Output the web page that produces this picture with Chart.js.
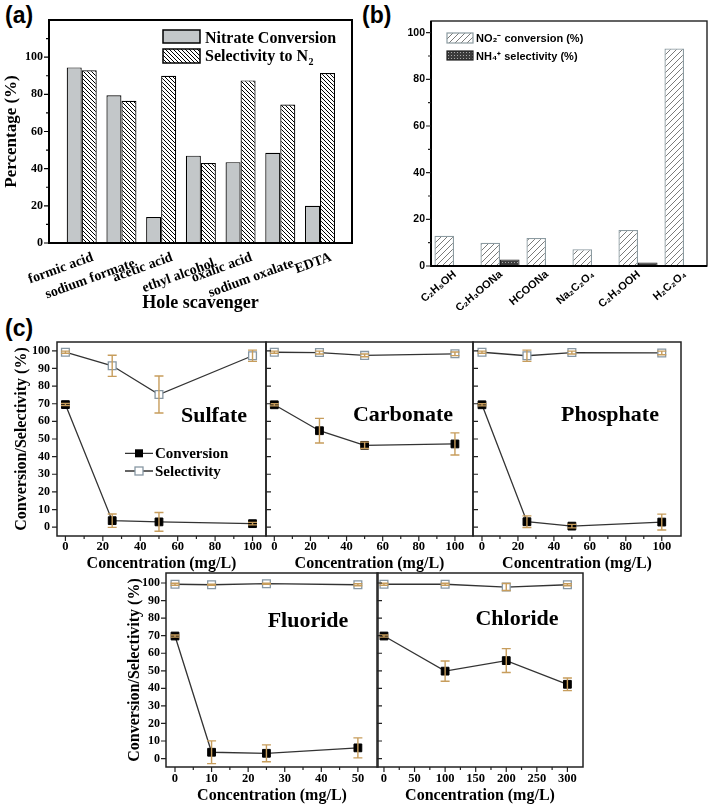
<!DOCTYPE html>
<html>
<head>
<meta charset="utf-8">
<script src="https://cdn.jsdelivr.net/npm/chart.js@4.4.0/dist/chart.umd.min.js"></script>
<style>
  body { margin: 0; background: #fff; width: 709px; height: 806px; position: relative; overflow: hidden; }
  canvas { position: absolute; }
  .tag { position: absolute; font: bold 23px 'Liberation Sans', Arial, sans-serif; color: #000; }
</style>
</head>
<body>
<div class="tag" style="left:5px;top:2px">(a)</div>
<div class="tag" style="left:362px;top:2px">(b)</div>
<div class="tag" style="left:5px;top:315px">(c)</div>

<canvas id="pa" width="360" height="318" style="left:0;top:0"></canvas>
<canvas id="pb" width="349" height="310" style="left:360px;top:0"></canvas>
<canvas id="sulfate" width="268" height="245" style="left:0;top:330px"></canvas>
<canvas id="carbonate" width="214" height="245" style="left:262px;top:330px"></canvas>
<canvas id="phosphate" width="239" height="245" style="left:470px;top:330px"></canvas>
<canvas id="fluoride" width="267" height="244" style="left:113px;top:562px"></canvas>
<canvas id="chloride" width="216" height="244" style="left:374px;top:562px"></canvas>

<script>
// --- panel (a) ---
const aCategories = ['formic acid', 'sodium formate', 'acetic acid', 'ethyl alcohol', 'oxalic acid', 'sodium oxalate', 'EDTA'];
const aConversion = [94.5, 79.5, 14, 47, 43.5, 48.5, 20];
const aSelectivity = [93, 76.5, 90, 43, 87.5, 74.5, 91.5];
const aYTicks = [0, 20, 40, 60, 80, 100];
const aYMinor = [10, 30, 50, 70, 90, 110];

// --- panel (b) ---
const bCategories = ['C₂H₅OH', 'C₂H₃OONa', 'HCOONa', 'Na₂C₂O₄', 'C₂H₃OOH', 'H₂C₂O₄'];
const bConversion = [13, 10, 12, 7.2, 15.4, 93.2];
const bAmmonium = [null, 2.8, null, null, 1.5, null];
const bYTicks = [0, 20, 40, 60, 80, 100];
const bYMinor = [10, 30, 50, 70, 90];

// --- panel (c) ---
const cYTicks = [0, 10, 20, 30, 40, 50, 60, 70, 80, 90, 100];
const c100Ticks = [0, 20, 40, 60, 80, 100];
const c100Minor = [10, 30, 50, 70, 90];
const fluorideTicks = [0, 10, 20, 30, 40, 50];
const fluorideMinor = [5, 15, 25, 35, 45];
const chlorideTicks = [0, 50, 100, 150, 200, 250, 300];
const chlorideMinor = [25, 75, 125, 175, 225, 275];

const sulfateX = [0, 25, 50, 100];
const sulfateConv = [69.5, 3.7, 3, 2];
const sulfateConvErr = [0.6, 3.8, 5.3, 0.7];
const sulfateSel = [99.2, 91.5, 75.2, 97.2];
const sulfateSelErr = [0.6, 6, 10.5, 3.2];

const carbonateX = [0, 25, 50, 100];
const carbonateConv = [69.4, 54.7, 46.4, 47.2];
const carbonateConvErr = [0.6, 7, 1.8, 6.3];
const carbonateSel = [99.2, 99, 97.4, 98.3];
const carbonateSelErr = [0.6, 0.8, 0.8, 1];

const phosphateX = [0, 25, 50, 100];
const phosphateConv = [69.4, 3.1, 0.6, 2.9];
const phosphateConvErr = [0.6, 3.3, 1, 4.5];
const phosphateSel = [99.2, 97.2, 99, 98.8];
const phosphateSelErr = [0.6, 3.2, 0.8, 1];

const fluorideX = [0, 10, 25, 50];
const fluorideConv = [69.8, 3.6, 3, 6.1];
const fluorideConvErr = [0.6, 6.5, 4.8, 5.7];
const fluorideSel = [99.3, 99, 99.6, 99];
const fluorideSelErr = [0.6, 0.3, 0.3, 0.6];

const chlorideX = [0, 100, 200, 300];
const chlorideConv = [69.8, 49.8, 55.8, 42.3];
const chlorideConvErr = [0.6, 5.8, 6.8, 3.6];
const chlorideSel = [99.3, 99.3, 97.7, 99];
const chlorideSelErr = [0.6, 0.6, 2, 0.6];

const SERIF = "'Liberation Serif', 'Times New Roman', serif";
const SANS = "'Liberation Sans', Arial, sans-serif";
const ERR_COLOR = '#c79d5c';
const SEL_EDGE = '#8797a3';

// hatch patterns
function hatch(bg, fg, size, dir, lw) {
    const c = document.createElement('canvas');
    c.width = c.height = size;
    const g = c.getContext('2d');
    g.fillStyle = bg;
    g.fillRect(0, 0, size, size);
    g.strokeStyle = fg;
    g.lineWidth = lw;
    g.beginPath();
    if (dir === '\\') {
        g.moveTo(0, 0); g.lineTo(size, size);
        g.moveTo(-1, size - 1); g.lineTo(1, size + 1);
        g.moveTo(size - 1, -1); g.lineTo(size + 1, 1);
    } else {
        g.moveTo(0, size); g.lineTo(size, 0);
        g.moveTo(-1, 1); g.lineTo(1, -1);
        g.moveTo(size - 1, size + 1); g.lineTo(size + 1, size - 1);
    }
    g.stroke();
    return g.createPattern(c, 'repeat');
}
function dots() {
    const c = document.createElement('canvas');
    c.width = c.height = 3;
    const g = c.getContext('2d');
    g.fillStyle = '#3c3c3c';
    g.fillRect(0, 0, 3, 3);
    g.fillStyle = '#a8a8a8';
    g.fillRect(1, 1, 1, 1);
    return g.createPattern(c, 'repeat');
}
const hatchA = hatch('#fff', '#000', 4, '\\', 1);
const hatchB = hatch('#fff', '#7a7a7a', 6, '/', 1);
const dotsB = dots();

// frame + tick marks drawn on the library's scales
function frame(o) {
    return {
        id: 'frame',
        afterDraw(chart) {
            const { ctx, chartArea: a, scales: { x, y } } = chart;
            ctx.save();
            ctx.strokeStyle = o.color || '#000';
            ctx.lineWidth = o.width || 1.5;
            ctx.strokeRect(a.left, a.top, a.right - a.left, a.bottom - a.top);
            if (o.thickLB) {
                ctx.lineWidth = o.thickLB;
                ctx.strokeStyle = '#000';
                ctx.beginPath();
                ctx.moveTo(a.left, a.top); ctx.lineTo(a.left, a.bottom); ctx.lineTo(a.right, a.bottom);
                ctx.stroke();
            }
            ctx.lineWidth = 1.2;
            ctx.strokeStyle = o.color || '#000';
            ctx.beginPath();
            const s = o.yIn ? 1 : -1;
            const yTick = (v, len) => { const p = y.getPixelForValue(v); ctx.moveTo(a.left, p); ctx.lineTo(a.left + s * len, p); };
            const xTick = (v, len) => { const p = x.getPixelForValue(v); ctx.moveTo(p, a.bottom); ctx.lineTo(p, a.bottom + len); };
            (o.yMajor || []).forEach(v => yTick(v, 5));
            (o.yMinor || []).forEach(v => yTick(v, 3));
            (o.xMajor || []).forEach(v => xTick(v, 5));
            (o.xMinor || []).forEach(v => xTick(v, 3));
            ctx.stroke();
            ctx.restore();
        }
    };
}

const errorBars = {
    id: 'errorBars',
    afterDatasetsDraw(chart) {
        const { ctx } = chart;
        const y = chart.scales.y;
        ctx.save();
        ctx.strokeStyle = ERR_COLOR;
        ctx.lineWidth = 1.4;
        chart.data.datasets.forEach((ds, i) => {
            if (!ds.errors) return;
            chart.getDatasetMeta(i).data.forEach((pt, j) => {
                const v = ds.data[j].y, e = ds.errors[j];
                const t = y.getPixelForValue(v + e), b = y.getPixelForValue(v - e);
                ctx.beginPath();
                ctx.moveTo(pt.x, t); ctx.lineTo(pt.x, b);
                ctx.moveTo(pt.x - 4.5, t); ctx.lineTo(pt.x + 4.5, t);
                ctx.moveTo(pt.x - 4.5, b); ctx.lineTo(pt.x + 4.5, b);
                ctx.stroke();
            });
        });
        ctx.restore();
    }
};

function notes(draw) {
    return { id: 'notes', afterDraw(chart) { const c = chart.ctx; c.save(); draw(c, chart); c.restore(); } };
}
function text(ctx, t, x, y, font, align) {
    ctx.font = font;
    ctx.fillStyle = '#000';
    ctx.textAlign = align || 'left';
    ctx.textBaseline = 'alphabetic';
    ctx.fillText(t, x, y);
}

const serifBold = size => ({ family: SERIF, size, weight: 'bold' });
const sansBold = size => ({ family: SANS, size, weight: 'bold' });
const setTicks = list => s => { s.ticks = list.map(v => ({ value: v })); };
const noGrid = { display: false, drawTicks: false };
const pinX = h => s => { s.height = h; s.paddingLeft = 0; s.paddingRight = 0; };
const pinY = w => s => { s.width = w; s.paddingTop = 0; s.paddingBottom = 0; };

// ---------- (a) ----------
new Chart(document.getElementById('pa'), {
    type: 'bar',
    data: {
        datasets: [
            { label: 'Nitrate Conversion', data: aConversion.map((v, i) => ({ x: i, y: v })), backgroundColor: '#c3c7c9', borderColor: '#000', borderWidth: 1.2 },
            { label: 'Selectivity to N2', data: aSelectivity.map((v, i) => ({ x: i, y: v })), backgroundColor: hatchA, borderColor: '#000', borderWidth: 1.2 }
        ]
    },
    options: {
        responsive: false, animation: false, devicePixelRatio: 1,
        categoryPercentage: 0.756, barPercentage: 1,
        layout: { autoPadding: false, padding: { top: 20, right: 8, left: 0, bottom: 0 } },
        plugins: { legend: { display: false }, tooltip: { enabled: false } },
        scales: {
            x: {
                type: 'linear', min: -0.824, max: 6.806, offset: false,
                afterBuildTicks: setTicks(aCategories.map((_, i) => i)),
                afterFit: pinX(75),
                grid: noGrid, border: { display: false },
                ticks: {
                    autoSkip: false, minRotation: 20, maxRotation: 20, padding: 11, labelOffset: 11,
                    color: '#000', font: { family: SERIF, size: 14, weight: 'bold', lineHeight: 0.45 },
                    callback: v => { const i = Math.round(v); return i % 2 ? ['', aCategories[i]] : aCategories[i]; }
                },
                title: { display: true, text: 'Hole scavenger', color: '#000', font: serifBold(18), padding: { top: 0, bottom: 4 } }
            },
            y: {
                min: 0, max: 120,
                afterBuildTicks: setTicks(aYTicks),
                afterFit: pinY(49),
                grid: noGrid, border: { display: false },
                ticks: { color: '#000', font: serifBold(12), padding: 6 },
                title: { display: true, text: 'Percentage (%)', color: '#000', font: serifBold(17), padding: { top: 1, bottom: 0 } }
            }
        }
    },
    plugins: [
        frame({ width: 2, yMajor: aYTicks, yMinor: aYMinor }),
        notes(ctx => {
            ctx.lineWidth = 1.5;
            ctx.strokeStyle = '#000';
            ctx.fillStyle = '#c3c7c9';
            ctx.fillRect(163, 30, 37, 13); ctx.strokeRect(163, 30, 37, 13);
            ctx.fillStyle = hatchA;
            ctx.fillRect(163, 49, 37, 14); ctx.strokeRect(163, 49, 37, 14);
            text(ctx, 'Nitrate Conversion', 205, 42.5, `bold 16px ${SERIF}`);
            text(ctx, 'Selectivity to N', 205, 61, `bold 16px ${SERIF}`);
            const w = ctx.measureText('Selectivity to N').width;
            text(ctx, '2', 205 + w + 0.5, 65, `bold 10px ${SERIF}`);
        })
    ]
});

// ---------- (b) ----------
new Chart(document.getElementById('pb'), {
    type: 'bar',
    data: {
        labels: bCategories,
        datasets: [
            { label: 'NO2- conversion (%)', data: bConversion, backgroundColor: hatchB, borderColor: '#8c9ba1', borderWidth: 1.3 },
            { label: 'NH4+ selectivity (%)', data: bAmmonium, backgroundColor: dotsB, borderColor: '#222', borderWidth: 1 }
        ]
    },
    options: {
        responsive: false, animation: false, devicePixelRatio: 1,
        categoryPercentage: 0.85, barPercentage: 1,
        layout: { autoPadding: false, padding: { top: 21, right: 2, left: 0, bottom: 0 } },
        plugins: { legend: { display: false }, tooltip: { enabled: false } },
        scales: {
            x: {
                afterFit: pinX(44),
                grid: noGrid, border: { display: false },
                ticks: { autoSkip: false, minRotation: 40, maxRotation: 40, padding: 2, labelOffset: 1, color: '#000', font: sansBold(11) }
            },
            y: {
                min: 0, max: 105,
                afterBuildTicks: setTicks(bYTicks),
                afterFit: pinY(71),
                grid: noGrid, border: { display: false },
                ticks: { color: '#000', font: sansBold(10.5), padding: 6 }
            }
        }
    },
    plugins: [
        frame({ width: 1.4, color: '#222', thickLB: 2, yMajor: bYTicks, yMinor: bYMinor }),
        notes(ctx => {
            ctx.lineWidth = 1.2;
            ctx.strokeStyle = '#8c9ba1';
            ctx.fillStyle = hatchB;
            ctx.fillRect(87, 33, 26, 10); ctx.strokeRect(87, 33, 26, 10);
            ctx.strokeStyle = '#222';
            ctx.fillStyle = dotsB;
            ctx.fillRect(87, 51, 26, 9); ctx.strokeRect(87, 51, 26, 9);
            text(ctx, 'NO₂⁻ conversion (%)', 116, 42, `bold 11px ${SANS}`);
            text(ctx, 'NH₄⁺ selectivity (%)', 116, 60, `bold 11px ${SANS}`);
        })
    ]
});

// ---------- (c) ----------
function panel(id, p) {
    const pts = (xs, ys) => xs.map((x, i) => ({ x, y: ys[i] }));
    return new Chart(document.getElementById(id), {
        type: 'line',
        data: {
            datasets: [
                {
                    label: 'Selectivity', data: pts(p.x, p.sel), errors: p.selErr,
                    borderColor: '#333', borderWidth: 1.3, pointStyle: 'rect', pointRadius: 5.5,
                    pointBackgroundColor: '#fff', pointBorderColor: SEL_EDGE, pointBorderWidth: 1.3
                },
                {
                    label: 'Conversion', data: pts(p.x, p.conv), errors: p.convErr,
                    borderColor: '#333', borderWidth: 1.3, pointStyle: 'rect', pointRadius: 5.5,
                    pointBackgroundColor: '#000', pointBorderColor: '#000', pointBorderWidth: 1
                }
            ]
        },
        options: {
            responsive: false, animation: false, devicePixelRatio: 1,
            layout: { autoPadding: false, padding: { top: p.top, left: p.padL, right: p.padR, bottom: 0 } },
            plugins: { legend: { display: false }, tooltip: { enabled: false } },
            scales: {
                x: {
                    type: 'linear', min: p.xMin, max: p.xMax,
                    afterBuildTicks: setTicks(p.xTicks),
                    afterFit: pinX(39),
                    grid: noGrid, border: { display: false },
                    ticks: { autoSkip: false, maxRotation: 0, padding: p.xPad, color: '#000', font: serifBold(12.5) },
                    title: { display: true, text: 'Concentration (mg/L)', color: '#000', font: serifBold(16), padding: { top: 0, bottom: p.titlePad } }
                },
                y: {
                    min: p.yMin, max: p.yMax,
                    afterBuildTicks: setTicks(cYTicks),
                    afterFit: pinY(p.yWidth),
                    grid: noGrid, border: { display: false },
                    ticks: { display: p.yLabels, color: '#000', font: serifBold(12), padding: p.yPad || 7 },
                    title: { display: p.yLabels, text: 'Conversion/Selectivity (%)', color: '#000', font: serifBold(16), padding: { top: 12, bottom: 0 } }
                }
            }
        },
        plugins: [
            errorBars,
            frame({ width: 1.5, color: '#222', yIn: !p.yLabels, yMajor: cYTicks, xMajor: p.xTicks, xMinor: p.xMinor }),
            notes(p.notes)
        ]
    });
}

const bigName = (name, x, y) => ctx => text(ctx, name, x, y, `bold 22px ${SERIF}`, 'center');

panel('sulfate', {
    x: sulfateX, conv: sulfateConv, convErr: sulfateConvErr, sel: sulfateSel, selErr: sulfateSelErr,
    xMin: -4.5, xMax: 107.2, xTicks: c100Ticks, xMinor: c100Minor, yMin: -5, yMax: 105,
    top: 12, padL: 0, padR: 2, yWidth: 57, yLabels: true, yPad: 7, xPad: 3, titlePad: 2,
    notes: ctx => {
        bigName('Sulfate', 214, 91.5)(ctx);
        ctx.strokeStyle = '#333';
        ctx.lineWidth = 1.3;
        ctx.beginPath();
        ctx.moveTo(125, 123.3); ctx.lineTo(153, 123.3);
        ctx.moveTo(125, 141); ctx.lineTo(153, 141);
        ctx.stroke();
        ctx.fillStyle = '#000';
        ctx.fillRect(135, 119.3, 8, 8);
        ctx.fillStyle = '#fff';
        ctx.strokeStyle = SEL_EDGE;
        ctx.fillRect(135, 137, 8, 8); ctx.strokeRect(135, 137, 8, 8);
        text(ctx, 'Conversion', 155, 128, `bold 15px ${SERIF}`);
        text(ctx, 'Selectivity', 155, 145.5, `bold 15px ${SERIF}`);
    }
});
panel('carbonate', {
    x: carbonateX, conv: carbonateConv, convErr: carbonateConvErr, sel: carbonateSel, selErr: carbonateSelErr,
    xMin: -4.6, xMax: 110, xTicks: c100Ticks, xMinor: c100Minor, yMin: -5, yMax: 105,
    top: 12, padL: 4, padR: 3, yWidth: 0, yLabels: false, xPad: 3, titlePad: 2,
    notes: bigName('Carbonate', 141, 90.7)
});
panel('phosphate', {
    x: phosphateX, conv: phosphateConv, convErr: phosphateConvErr, sel: phosphateSel, selErr: phosphateSelErr,
    xMin: -5, xMax: 110.7, xTicks: c100Ticks, xMinor: c100Minor, yMin: -5, yMax: 105,
    top: 12, padL: 3, padR: 28, yWidth: 0, yLabels: false, xPad: 3, titlePad: 2,
    notes: bigName('Phosphate', 140, 90.7)
});
panel('fluoride', {
    x: fluorideX, conv: fluorideConv, convErr: fluorideConvErr, sel: fluorideSel, selErr: fluorideSelErr,
    xMin: -2.46, xMax: 55.5, xTicks: fluorideTicks, xMinor: fluorideMinor, yMin: -4.8, yMax: 105.7,
    top: 11, padL: 0, padR: 2, yWidth: 53, yLabels: true, yPad: 6, xPad: 4, titlePad: 1,
    notes: bigName('Fluoride', 195, 64.7)
});
panel('chloride', {
    x: chlorideX, conv: chlorideConv, convErr: chlorideConvErr, sel: chlorideSel, selErr: chlorideSelErr,
    xMin: -11.4, xMax: 325.5, xTicks: chlorideTicks, xMinor: chlorideMinor, yMin: -4.8, yMax: 105.7,
    top: 11, padL: 3, padR: 7, yWidth: 0, yLabels: false, xPad: 4, titlePad: 1,
    notes: bigName('Chloride', 143, 63)
});
</script>
</body>
</html>
